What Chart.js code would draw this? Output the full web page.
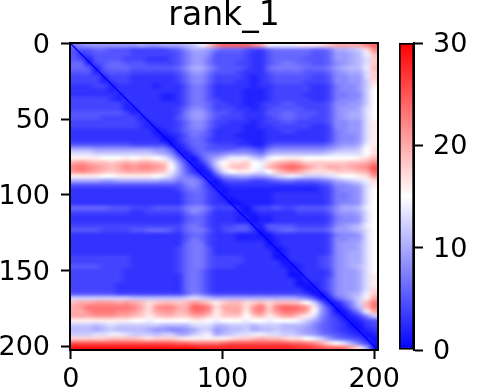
<!DOCTYPE html>
<html><head><meta charset="utf-8">
<style>html,body{margin:0;padding:0;background:#fff;width:484px;height:392px;overflow:hidden}
#wrap{position:relative;width:484px;height:392px}
canvas{position:absolute;top:0}</style>
<script src="https://cdn.jsdelivr.net/npm/chart.js@4/dist/chart.umd.min.js"></script>
</head><body><div id="wrap"><div style="position:absolute;left:0;top:0;width:484px;height:392px"><canvas id="main"></canvas></div>
<div style="position:absolute;left:380px;top:0;width:104px;height:392px"><canvas id="bar"></canvas></div></div>
<script>
const chartTitle = "rank_1";
const xTicks = [0,100,200];
const yTicks = [0,50,100,150,200];
const colorbarTicks = [0,10,20,30];
const valueRange = [0,30];
const gridExtent = [-0.5,202.5];
const diagonal = [0,202];
const matrix = [
[7,8,9,9,9,9,9,9,9,10,9,9,10,10,10,11,12,14,18,22,24,24,24,24,22,20,16,14,14,14,16,16,16,17,18,20,20,20,20,22,24],
[5,5,5,6,6,5,5,5,4,4,4,4,4,5,6,8,10,10,9,7,6,6,6,5,4,4,6,7,7,7,7,7,6,6,7,10,10,11,12,17,22],
[5,3,4,5,5,5,5,5,4,4,4,4,4,4,5,7,9,9,8,5,5,5,5,4,3,3,5,6,6,6,6,6,5,5,6,9,9,10,11,14,19],
[5,4,2,5,5,5,5,4,4,4,3,3,3,4,5,7,9,9,7,5,5,5,5,4,3,3,5,6,6,6,6,5,5,5,6,9,9,10,11,13,18],
[6,6,2,4,5,6,6,5,5,5,4,4,4,4,5,7,9,9,7,5,5,5,4,4,3,3,5,6,7,7,6,6,5,5,6,8,9,10,11,13,18],
[6,6,5,2,5,6,6,6,5,5,5,5,5,5,6,8,10,10,8,6,5,5,5,4,3,3,6,7,7,7,7,6,6,6,7,9,10,11,11,14,19],
[5,5,5,2,4,5,5,5,4,4,4,4,4,4,5,7,9,9,7,5,5,5,4,3,3,3,5,6,6,6,6,5,5,5,6,8,9,10,10,13,18],
[4,4,4,4,2,4,4,4,3,3,3,3,3,3,4,6,8,8,6,4,4,4,4,3,2,3,4,5,5,5,5,5,4,4,5,8,8,9,9,13,18],
[4,4,4,4,2,3,4,4,3,3,3,3,3,3,4,6,8,8,6,4,4,4,3,3,2,3,4,5,5,5,5,4,4,4,5,8,8,9,9,12,17],
[3,3,3,4,4,2,3,3,3,3,3,2,3,3,3,5,7,7,5,3,3,3,3,3,2,3,3,4,4,4,4,4,3,3,4,7,8,8,9,12,16],
[3,3,3,3,3,2,3,3,3,3,3,3,3,3,3,5,7,7,5,3,3,3,3,2,2,2,3,4,4,4,4,4,3,3,4,7,8,8,9,12,15],
[3,3,3,3,3,3,2,3,3,3,3,3,2,2,3,5,7,7,5,3,3,3,3,2,2,2,3,4,4,4,4,3,3,3,4,7,7,8,8,12,15],
[4,4,4,4,4,3,2,3,3,3,3,3,2,2,3,5,7,7,5,4,3,3,3,2,2,2,3,4,4,4,4,4,3,3,4,7,8,8,9,12,15],
[4,4,4,4,4,4,4,2,3,3,3,3,3,3,3,5,7,7,6,4,4,3,3,2,2,3,4,4,5,5,4,4,4,4,5,8,8,9,9,12,15],
[4,4,4,4,4,4,4,2,2,3,3,3,3,3,4,6,8,8,6,4,4,4,3,3,2,3,4,5,5,5,5,4,4,4,5,8,9,9,10,13,15],
[5,5,5,5,5,5,5,4,2,3,3,3,3,3,4,7,9,9,7,5,5,4,4,3,3,3,5,5,6,6,5,5,5,4,5,8,9,10,10,13,15],
[5,5,5,5,4,4,4,4,4,2,3,3,3,3,5,7,9,9,7,5,4,4,4,3,3,3,4,5,6,6,5,5,4,4,5,8,9,10,10,13,15],
[4,4,4,4,4,4,4,4,4,3,2,3,3,3,4,6,8,8,6,4,4,3,3,3,2,3,4,4,5,5,4,4,4,4,5,8,8,9,9,13,16],
[4,4,4,4,4,4,4,4,4,3,2,2,3,3,4,6,8,8,6,4,3,3,3,2,2,3,3,4,4,4,4,4,3,3,4,8,8,9,9,13,16],
[3,3,3,3,3,3,3,3,3,3,3,1,2,3,4,6,7,7,5,3,3,3,3,2,2,2,3,3,4,4,3,3,3,3,4,7,8,9,9,13,16],
[3,3,3,3,3,3,3,3,3,3,3,2,1,2,3,5,7,6,5,3,3,3,2,2,2,2,3,3,3,3,3,3,3,3,4,7,8,8,9,13,16],
[3,3,3,3,3,3,3,3,3,3,3,3,1,1,3,5,6,6,4,3,3,3,3,2,2,2,3,3,3,3,3,3,3,3,4,7,8,8,9,13,16],
[5,5,5,5,5,5,5,5,4,4,4,4,4,1,2,4,6,6,5,4,4,4,3,3,2,2,4,5,5,5,5,5,5,5,6,8,9,9,10,14,16],
[10,10,10,9,9,9,9,9,9,9,9,8,8,5,1,3,5,6,5,5,5,5,6,6,5,4,7,8,8,8,8,8,8,8,9,10,11,11,12,15,17],
[13,13,13,12,12,12,12,12,12,12,12,11,10,8,3,1,4,6,7,7,8,9,9,9,8,7,10,11,11,11,11,11,11,11,12,13,13,13,13,15,17],
[16,16,16,16,15,15,15,16,15,16,16,15,14,11,6,2,1,5,8,10,12,14,14,14,12,11,14,15,16,16,16,15,15,15,15,15,15,15,16,17,19],
[20,21,20,19,19,18,19,20,19,20,20,19,18,14,9,4,1,3,7,12,15,17,17,18,15,14,17,19,20,21,20,18,18,18,18,18,18,19,19,20,22],
[22,23,22,21,20,19,20,22,21,22,22,21,20,15,10,5,2,1,5,11,16,18,19,18,15,14,19,21,23,24,23,21,19,18,20,20,19,20,21,22,25],
[21,22,21,20,19,18,19,20,20,20,20,19,18,14,10,6,3,1,2,8,13,15,16,16,14,13,15,18,20,21,20,18,17,17,17,18,18,18,19,20,24],
[16,16,16,16,15,15,16,16,16,16,16,15,14,12,9,7,6,3,1,4,8,9,10,10,9,9,10,12,13,14,13,12,12,12,13,14,15,15,16,17,21],
[10,10,10,10,9,9,10,10,10,10,10,10,9,9,7,8,8,6,2,1,4,5,5,5,4,4,5,6,7,7,6,6,6,7,8,10,11,12,13,14,17],
[5,5,5,5,5,5,5,5,5,5,5,5,5,5,5,7,8,6,3,1,2,3,3,3,3,3,3,3,3,3,3,3,3,4,5,8,8,9,10,13,16],
[3,3,3,3,3,3,3,3,3,3,3,3,3,3,4,6,7,6,4,2,1,2,2,2,2,2,2,2,2,2,2,2,2,3,4,7,8,8,9,13,15],
[3,3,3,3,3,3,3,3,3,3,3,3,3,3,3,5,6,6,4,3,1,2,2,2,2,2,2,3,3,3,3,3,3,3,4,7,7,8,9,13,15],
[3,3,3,3,3,3,3,3,3,3,3,3,3,3,3,5,6,6,4,3,2,1,2,2,2,2,2,3,3,3,3,3,3,3,4,7,7,8,9,13,15],
[3,3,3,3,3,3,3,3,3,3,3,3,3,3,3,5,6,6,4,3,3,1,1,2,2,2,2,3,3,3,3,3,3,3,4,7,8,8,9,13,15],
[6,6,6,6,6,5,5,5,4,4,4,5,5,5,5,7,8,8,6,4,4,4,2,1,3,4,4,5,4,4,5,5,5,5,6,8,10,10,11,14,15],
[4,4,4,4,4,4,4,4,3,3,4,4,4,4,4,6,8,7,5,3,3,3,2,1,2,3,3,3,3,3,4,4,4,4,5,8,9,9,10,13,15],
[3,3,3,3,3,3,3,3,3,3,3,3,3,3,3,5,6,6,4,3,3,3,2,2,1,2,2,3,3,3,3,3,3,3,4,7,8,8,9,13,15],
[3,3,3,3,3,3,3,3,3,3,3,3,3,3,3,5,6,6,4,3,3,3,2,2,1,2,2,3,3,3,3,3,3,3,4,7,8,8,9,13,15],
[4,4,4,4,4,4,4,4,4,4,4,4,4,4,4,6,7,6,4,3,4,4,5,5,2,2,5,5,5,5,4,4,4,4,5,8,9,10,11,14,15],
[5,5,5,5,4,4,4,4,5,5,6,6,6,5,4,6,7,7,5,3,4,5,5,5,3,1,4,5,6,6,5,5,5,5,6,9,9,10,11,13,15],
[3,3,3,3,3,3,3,3,3,3,3,3,3,3,3,5,6,6,4,3,3,3,2,2,2,1,1,3,3,3,3,3,3,3,4,7,8,8,9,13,15],
[3,3,3,3,3,3,3,3,3,3,3,3,3,3,3,5,7,6,4,3,3,3,2,2,2,2,1,2,3,3,3,3,3,3,4,8,8,9,9,13,15],
[3,3,3,3,3,3,3,3,3,3,3,3,3,3,3,6,7,7,4,3,3,3,3,3,3,3,1,2,3,3,3,3,3,3,4,8,9,9,10,13,15],
[3,3,3,3,3,3,3,3,3,3,3,3,3,3,4,6,7,7,5,3,3,3,3,3,3,3,2,1,2,3,3,3,3,3,4,8,9,9,10,13,15],
[3,3,3,3,3,3,3,3,3,3,3,3,3,3,4,6,7,7,5,3,3,3,3,3,3,3,3,1,2,3,3,3,3,3,4,8,9,10,10,13,15],
[4,4,4,4,4,4,4,4,3,3,3,3,3,3,4,6,7,7,5,4,4,4,4,3,3,3,3,1,1,3,3,3,3,4,5,8,9,10,10,13,15],
[4,4,4,4,4,4,4,4,3,3,3,3,3,3,4,6,7,7,5,4,4,4,4,3,3,3,3,3,1,2,3,3,3,4,5,8,9,10,10,13,15],
[5,5,5,5,4,4,4,4,3,3,3,3,3,3,4,6,7,7,5,4,4,4,3,3,3,3,3,3,2,1,2,3,3,4,5,8,9,10,11,13,15],
[4,4,4,4,4,4,4,3,3,3,3,3,3,3,4,6,7,6,4,3,3,3,3,3,3,3,3,3,3,1,2,3,3,3,4,8,9,9,10,13,15],
[4,4,4,4,4,4,4,3,3,3,3,3,3,3,3,6,7,6,4,3,3,3,3,3,3,3,3,3,3,1,1,3,3,3,4,8,9,9,10,13,16],
[4,4,4,4,4,4,4,3,3,3,3,3,3,3,3,6,7,6,4,3,3,3,3,3,3,3,3,3,3,3,1,2,3,3,5,8,9,9,10,13,16],
[4,4,4,4,4,4,3,3,3,3,3,3,3,3,3,6,7,6,4,3,3,3,3,3,3,3,3,3,3,3,1,1,2,3,5,8,9,9,10,13,16],
[4,4,4,4,4,4,3,3,3,3,3,3,3,3,3,6,7,6,4,3,3,3,3,3,3,3,3,3,3,3,3,1,1,3,5,8,9,9,10,13,17],
[5,5,5,5,5,5,4,4,4,4,4,4,4,4,4,6,8,7,5,4,4,4,4,4,4,4,4,4,4,4,4,3,1,1,4,8,9,10,11,14,18],
[12,12,12,12,12,12,12,12,11,11,11,11,11,11,11,12,13,12,11,10,10,10,10,10,10,10,10,10,10,10,9,8,5,1,2,6,8,10,12,16,20],
[19,20,20,21,21,21,20,21,20,19,17,18,19,19,18,19,21,20,18,16,18,19,19,17,18,19,17,19,19,19,18,15,12,6,1,2,5,8,12,19,23],
[20,21,23,23,23,23,23,23,22,20,17,21,22,22,20,20,24,24,22,17,20,20,20,17,21,23,18,22,24,24,23,21,16,9,4,1,3,7,11,19,23],
[20,20,22,23,23,23,22,22,21,19,17,20,21,21,19,20,23,23,21,16,19,20,20,16,21,22,18,21,23,23,22,20,15,9,5,1,1,4,8,14,20],
[20,20,20,21,21,21,20,20,19,18,16,18,19,19,18,18,20,20,18,16,18,18,18,15,18,19,16,18,20,20,18,16,13,8,5,3,1,2,4,8,12],
[16,16,16,16,16,16,16,16,15,15,14,15,15,15,15,15,16,16,15,14,15,15,15,14,15,15,14,15,15,15,14,12,10,7,5,4,2,1,2,4,5],
[12,12,12,11,12,13,12,12,12,12,12,12,11,11,11,11,13,13,13,11,11,12,12,12,11,12,12,12,11,11,11,10,8,6,5,4,3,1,1,3,4],
[11,11,11,10,11,12,11,11,11,11,10,9,9,8,8,9,10,12,12,9,10,11,11,12,10,11,11,12,11,11,10,9,8,6,5,4,3,2,1,2,3],
[12,12,12,13,13,14,14,13,12,12,12,11,12,12,10,10,12,13,14,10,11,12,13,13,14,14,13,13,12,12,11,10,9,7,6,5,4,3,2,1,2],
[18,18,18,18,18,19,19,19,19,18,17,18,18,18,17,16,16,16,16,16,16,17,18,18,19,20,19,19,18,17,17,15,14,12,9,7,6,5,4,2,1],
[25,25,25,25,25,25,25,25,25,25,25,25,25,25,24,24,23,23,23,23,24,25,25,25,25,25,25,25,25,24,24,23,22,20,17,15,13,10,7,4,1],
[29,29,29,29,29,29,29,29,29,29,29,29,29,29,29,29,29,28,28,28,28,28,28,28,28,28,28,28,28,28,27,27,26,25,24,24,23,20,17,10,1]
];

const FONT = "'DejaVu Sans'";
Chart.defaults.font.family = FONT;
Chart.defaults.color = '#000';
Chart.defaults.animation = false;

function bwr(v){
  const t = Math.max(0,Math.min(1,(v-valueRange[0])/(valueRange[1]-valueRange[0])));
  if(t<=0.5){const c=Math.round(510*t);return [c,c,255];}
  const c=Math.round(510*(1-t));return [255,c,c];
}
const rows = matrix.length, cols = matrix[0].length;
const span = gridExtent[1]-gridExtent[0];
const cells = [];
matrix.forEach((row,r)=>row.forEach((v,c)=>cells.push({
  x:gridExtent[0]+(c+.5)*span/cols, y:gridExtent[0]+(r+.5)*span/rows, v})));

const heatPlugin = {
  id:'heat',
  beforeDatasetsDraw(chart){
    const xs=chart.scales.x, ys=chart.scales.y, a=chart.chartArea, ctx=chart.ctx;
    const off=document.createElement('canvas'); off.width=cols+2; off.height=rows+2;
    const oc=off.getContext('2d'), img=oc.createImageData(cols+2,rows+2);
    const pts=chart.data.datasets[0].data;
    for(let r=-1;r<=rows;r++)for(let c=-1;c<=cols;c++){
      const rr=Math.max(0,Math.min(rows-1,r)), cc=Math.max(0,Math.min(cols-1,c));
      const col=bwr(pts[rr*cols+cc].v), i=((r+1)*(cols+2)+(c+1))*4;
      img.data[i]=col[0];img.data[i+1]=col[1];img.data[i+2]=col[2];img.data[i+3]=255;
    }
    oc.putImageData(img,0,0);
    const cw=span/cols, ch=span/rows;
    const x0=xs.getPixelForValue(gridExtent[0]-cw), x1=xs.getPixelForValue(gridExtent[1]+cw);
    const y0=ys.getPixelForValue(gridExtent[0]-ch), y1=ys.getPixelForValue(gridExtent[1]+ch);
    ctx.save();
    ctx.beginPath();ctx.rect(a.left,a.top,a.right-a.left,a.bottom-a.top);ctx.clip();
    ctx.imageSmoothingEnabled=true;ctx.imageSmoothingQuality='high';
    ctx.drawImage(off,x0,y0,x1-x0,y1-y0);
    ctx.restore();
  },
  afterDraw(chart){
    const a=chart.chartArea,ctx=chart.ctx;
    ctx.save();ctx.strokeStyle='#000';ctx.lineWidth=2;
    ctx.strokeRect(a.left,a.top,a.right-a.left,a.bottom-a.top);ctx.restore();
  }
};

new Chart(document.getElementById('main'),{
  type:'scatter',
  plugins:[heatPlugin],
  data:{datasets:[
    {label:'cells',data:cells,pointRadius:0,showLine:false},
    {label:'diagonal',type:'line',data:diagonal.map(d=>({x:d,y:d})),borderColor:'#0000ff',borderWidth:1.5,pointRadius:0}
  ]},
  options:{
    responsive:true,maintainAspectRatio:false,
    layout:{padding:{left:0,right:106,top:0,bottom:0}},
    plugins:{legend:{display:false},tooltip:{enabled:false},
      title:{display:true,text:chartTitle,fullSize:false,color:'#000',font:{size:33,weight:'normal',family:FONT},padding:{top:-3,bottom:6.4}}},
    scales:{
      x:{type:'linear',min:gridExtent[0],max:gridExtent[1],
        afterBuildTicks:s=>{s.ticks=xTicks.map(v=>({value:v}))},
        afterFit:s=>{s.height=42},
        grid:{drawOnChartArea:false,drawTicks:true,tickLength:9,tickWidth:2,tickColor:'#000'},
        border:{display:true,color:'#000',width:2},
        ticks:{autoSkip:false,maxRotation:0,color:'#000',font:{size:27,family:FONT},padding:5,callback:v=>String(v)}},
      y:{type:'linear',reverse:true,min:gridExtent[0],max:gridExtent[1],
        afterBuildTicks:s=>{s.ticks=yTicks.map(v=>({value:v}))},
        afterFit:s=>{s.width=70},
        grid:{drawOnChartArea:false,drawTicks:true,tickLength:9,tickWidth:2,tickColor:'#000'},
        border:{display:true,color:'#000',width:2},
        ticks:{autoSkip:false,color:'#000',font:{size:27,family:FONT},padding:11,labelOffset:2,callback:v=>String(v)}}
    }
  }
});

new Chart(document.getElementById('bar'),{
  type:'bar',
  data:{labels:['colorbar'],datasets:[{
    data:[valueRange.slice()],barPercentage:1,categoryPercentage:1,
    borderColor:'#000',borderWidth:2,borderSkipped:false,
    backgroundColor(ctx){
      const a=ctx.chart.chartArea; if(!a) return '#fff';
      const s=ctx.chart.scales.y;
      const g=ctx.chart.ctx.createLinearGradient(0,s.getPixelForValue(valueRange[0]),0,s.getPixelForValue(valueRange[1]));
      g.addColorStop(0,'#0000ff');g.addColorStop(.5,'#ffffff');g.addColorStop(1,'#ff0000');
      return g;
    }}]},
  options:{
    responsive:true,maintainAspectRatio:false,
    layout:{padding:{left:19,right:0,top:43,bottom:42}},
    plugins:{legend:{display:false},tooltip:{enabled:false},title:{display:false}},
    scales:{
      x:{display:false},
      y:{position:'right',min:valueRange[0],max:valueRange[1],
        afterBuildTicks:s=>{s.ticks=colorbarTicks.map(v=>({value:v}))},
        afterFit:s=>{s.width=70},
        grid:{drawOnChartArea:false,drawTicks:true,tickLength:9,tickWidth:2,tickColor:'#000'},
        border:{display:true,color:'#000',width:2},
        ticks:{color:'#000',font:{size:27,family:FONT},padding:10,labelOffset:2,callback:v=>String(v)}}
    }
  }
});
</script></body></html>
